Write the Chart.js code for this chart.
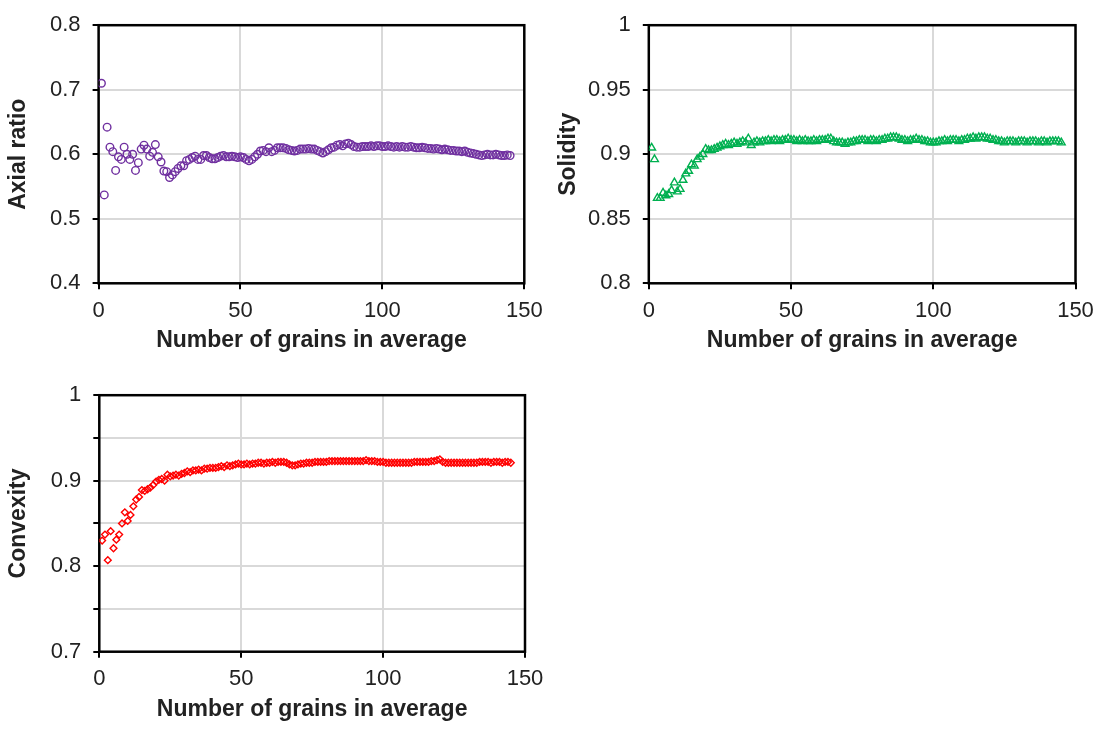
<!DOCTYPE html>
<html lang="en">
<head>
<meta charset="utf-8">
<script src="https://cdn.jsdelivr.net/npm/chart.js"></script>
<style>
  body { margin: 0; background: #fff; width: 1102px; height: 729px; position: relative; overflow: hidden; }
  canvas { position: absolute; }
  #axialChart { left: 0; top: 0; }
  #solidityChart { left: 550px; top: 0; }
  #convexityChart { left: 0; top: 370px; }
</style>
</head>
<body>

<canvas id="axialChart" width="560" height="360"></canvas>
<canvas id="solidityChart" width="552" height="360"></canvas>
<canvas id="convexityChart" width="560" height="359"></canvas>

<script>
// number of grains in the running average
const grains = [
  1,2,3,4,5,6,7,8,9,10,11,12,13,14,15,16,17,18,19,20,
  21,22,23,24,25,26,27,28,29,30,31,32,33,34,35,36,37,38,39,40,
  41,42,43,44,45,46,47,48,49,50,51,52,53,54,55,56,57,58,59,60,
  61,62,63,64,65,66,67,68,69,70,71,72,73,74,75,76,77,78,79,80,
  81,82,83,84,85,86,87,88,89,90,91,92,93,94,95,96,97,98,99,100,
  101,102,103,104,105,106,107,108,109,110,111,112,113,114,115,116,117,118,119,120,
  121,122,123,124,125,126,127,128,129,130,131,132,133,134,135,136,137,138,139,140,
  141,142,143,144,145
];

const axialRatio = [
  0.710,0.537,0.642,0.611,0.604,0.575,0.596,0.592,0.611,0.600,
  0.592,0.600,0.575,0.587,0.608,0.614,0.608,0.597,0.603,0.615,
  0.596,0.588,0.574,0.573,0.564,0.568,0.573,0.578,0.582,0.582,
  0.590,0.592,0.595,0.597,0.592,0.592,0.598,0.598,0.595,0.593,
  0.593,0.595,0.597,0.598,0.596,0.596,0.597,0.596,0.595,0.596,
  0.595,0.592,0.590,0.592,0.596,0.600,0.605,0.606,0.604,0.610,
  0.604,0.606,0.610,0.610,0.610,0.609,0.607,0.606,0.605,0.606,
  0.608,0.608,0.608,0.609,0.608,0.608,0.606,0.604,0.602,0.604,
  0.607,0.610,0.611,0.614,0.615,0.613,0.616,0.617,0.615,0.612,
  0.611,0.611,0.612,0.612,0.612,0.613,0.612,0.613,0.613,0.612,
  0.612,0.613,0.612,0.611,0.612,0.611,0.612,0.611,0.611,0.612,
  0.611,0.610,0.610,0.611,0.610,0.609,0.609,0.608,0.609,0.608,
  0.607,0.608,0.607,0.606,0.606,0.605,0.605,0.604,0.605,0.603,
  0.602,0.601,0.600,0.599,0.598,0.599,0.600,0.599,0.599,0.600,
  0.599,0.598,0.598,0.599,0.598
];

const solidity = [
  0.905,0.896,0.866,0.866,0.870,0.868,0.869,0.872,0.878,0.871,
  0.873,0.880,0.885,0.887,0.892,0.891,0.896,0.898,0.900,0.904,
  0.903,0.903,0.904,0.905,0.906,0.907,0.908,0.907,0.908,0.909,
  0.908,0.909,0.910,0.909,0.912,0.907,0.909,0.910,0.909,0.910,
  0.910,0.911,0.910,0.911,0.911,0.910,0.911,0.911,0.912,0.911,
  0.911,0.910,0.911,0.910,0.911,0.910,0.910,0.911,0.910,0.911,
  0.911,0.911,0.912,0.912,0.910,0.909,0.909,0.909,0.908,0.909,
  0.909,0.910,0.910,0.911,0.911,0.911,0.910,0.911,0.911,0.910,
  0.911,0.911,0.912,0.912,0.913,0.913,0.913,0.912,0.911,0.911,
  0.910,0.911,0.911,0.912,0.911,0.911,0.910,0.910,0.909,0.909,
  0.909,0.910,0.910,0.911,0.910,0.911,0.911,0.911,0.910,0.911,
  0.911,0.912,0.912,0.913,0.912,0.913,0.913,0.913,0.912,0.912,
  0.911,0.911,0.910,0.910,0.909,0.910,0.910,0.910,0.909,0.910,
  0.910,0.910,0.909,0.910,0.910,0.910,0.909,0.910,0.910,0.909,
  0.910,0.910,0.910,0.910,0.909
];

const convexity = [
  0.830,0.837,0.807,0.841,0.821,0.831,0.837,0.850,0.863,0.853,
  0.860,0.870,0.878,0.881,0.889,0.888,0.890,0.892,0.895,0.899,
  0.901,0.902,0.900,0.907,0.905,0.906,0.907,0.906,0.908,0.909,
  0.911,0.910,0.912,0.912,0.913,0.912,0.914,0.914,0.915,0.915,
  0.915,0.916,0.917,0.916,0.918,0.917,0.918,0.919,0.920,0.919,
  0.919,0.920,0.919,0.920,0.920,0.921,0.921,0.920,0.921,0.921,
  0.922,0.921,0.922,0.922,0.922,0.921,0.919,0.918,0.918,0.919,
  0.920,0.920,0.921,0.921,0.921,0.922,0.922,0.922,0.922,0.922,
  0.923,0.923,0.923,0.923,0.923,0.923,0.923,0.923,0.923,0.923,
  0.923,0.923,0.923,0.924,0.923,0.923,0.923,0.922,0.922,0.922,
  0.921,0.921,0.921,0.921,0.921,0.921,0.921,0.921,0.921,0.921,
  0.922,0.922,0.922,0.922,0.922,0.922,0.923,0.923,0.924,0.925,
  0.922,0.921,0.921,0.921,0.921,0.921,0.921,0.921,0.921,0.921,
  0.921,0.921,0.921,0.922,0.922,0.922,0.922,0.921,0.922,0.922,
  0.922,0.921,0.922,0.922,0.921
];

const xTitle = 'Number of grains in average';

// draws the black box around the plot area
const frame = {
  id: 'frame',
  beforeDatasetsDraw(chart) {
    const a = chart.chartArea, ctx = chart.ctx;
    ctx.save();
    ctx.strokeStyle = '#000';
    ctx.lineWidth = 2.5;
    ctx.strokeRect(a.left, a.top, a.right - a.left, a.bottom - a.top);
    ctx.restore();
  }
};

function fmt(v) {
  return String(parseFloat(v.toFixed(2)));
}

function makeChart(id, values, o) {
  const ctx = document.getElementById(id).getContext('2d');
  return new Chart(ctx, {
    type: 'scatter',
    data: {
      datasets: [{
        data: grains.map((g, i) => ({ x: g, y: values[i] })),
        pointStyle: o.style,
        pointRadius: o.radius,
        pointBorderWidth: 1.4,
        borderColor: o.color,
        backgroundColor: 'rgba(0,0,0,0)',
        pointHoverRadius: o.radius
      }]
    },
    options: {
      responsive: false,
      animation: false,
      layout: { padding: { left: 0, top: o.top, right: o.right, bottom: 0 } },
      plugins: { legend: { display: false }, tooltip: { enabled: false } },
      scales: {
        x: {
          type: 'linear',
          min: 0, max: 150,
          afterFit: s => { s.height = o.xHeight; },
          ticks: { stepSize: 50, color: '#222', padding: 8, maxRotation: 0,
                   font: { family: 'Liberation Sans, Arial', size: 22 } },
          grid: { color: '#d9d9d9', lineWidth: 2, tickColor: '#000', tickLength: 6, tickWidth: 2 },
          border: { display: false },
          title: { display: true, text: xTitle, color: '#222', padding: { top: 0, bottom: 6 },
                   font: { family: 'Liberation Sans, Arial', size: 23, weight: 'bold' } }
        },
        y: {
          min: o.min, max: o.max,
          afterFit: s => { s.width = o.yWidth; },
          ticks: { stepSize: o.step, color: '#222', padding: 12,
                   font: { family: 'Liberation Sans, Arial', size: 22 },
                   callback: o.label || fmt },
          grid: { color: '#d9d9d9', lineWidth: 2, tickColor: '#000', tickLength: 6, tickWidth: 2 },
          border: { display: false },
          title: { display: true, text: o.title, color: '#222', padding: { top: 5, bottom: 0 },
                   font: { family: 'Liberation Sans, Arial', size: 23, weight: 'bold' } }
        }
      }
    },
    plugins: [frame]
  });
}

makeChart('axialChart', axialRatio, {
  title: 'Axial ratio', color: '#7030A0', style: 'circle', radius: 3.8,
  min: 0.4, max: 0.8, step: 0.1,
  top: 19.3, right: 35.7, yWidth: 98.6, xHeight: 76.7
});

makeChart('solidityChart', solidity, {
  title: 'Solidity', color: '#00B050', style: 'triangle', radius: 4.5,
  min: 0.8, max: 1, step: 0.05,
  top: 20.7, right: 26.5, yWidth: 98.8, xHeight: 76.7
});

makeChart('convexityChart', convexity, {
  title: 'Convexity', color: '#FF0000', style: 'rectRot', radius: 3.4,
  min: 0.7, max: 1, step: 0.05,
  label: v => (Math.round(v * 100) % 10 === 0 ? fmt(v) : ''),
  top: 20, right: 35, yWidth: 99.3, xHeight: 77.3
});
</script>
</body>
</html>
